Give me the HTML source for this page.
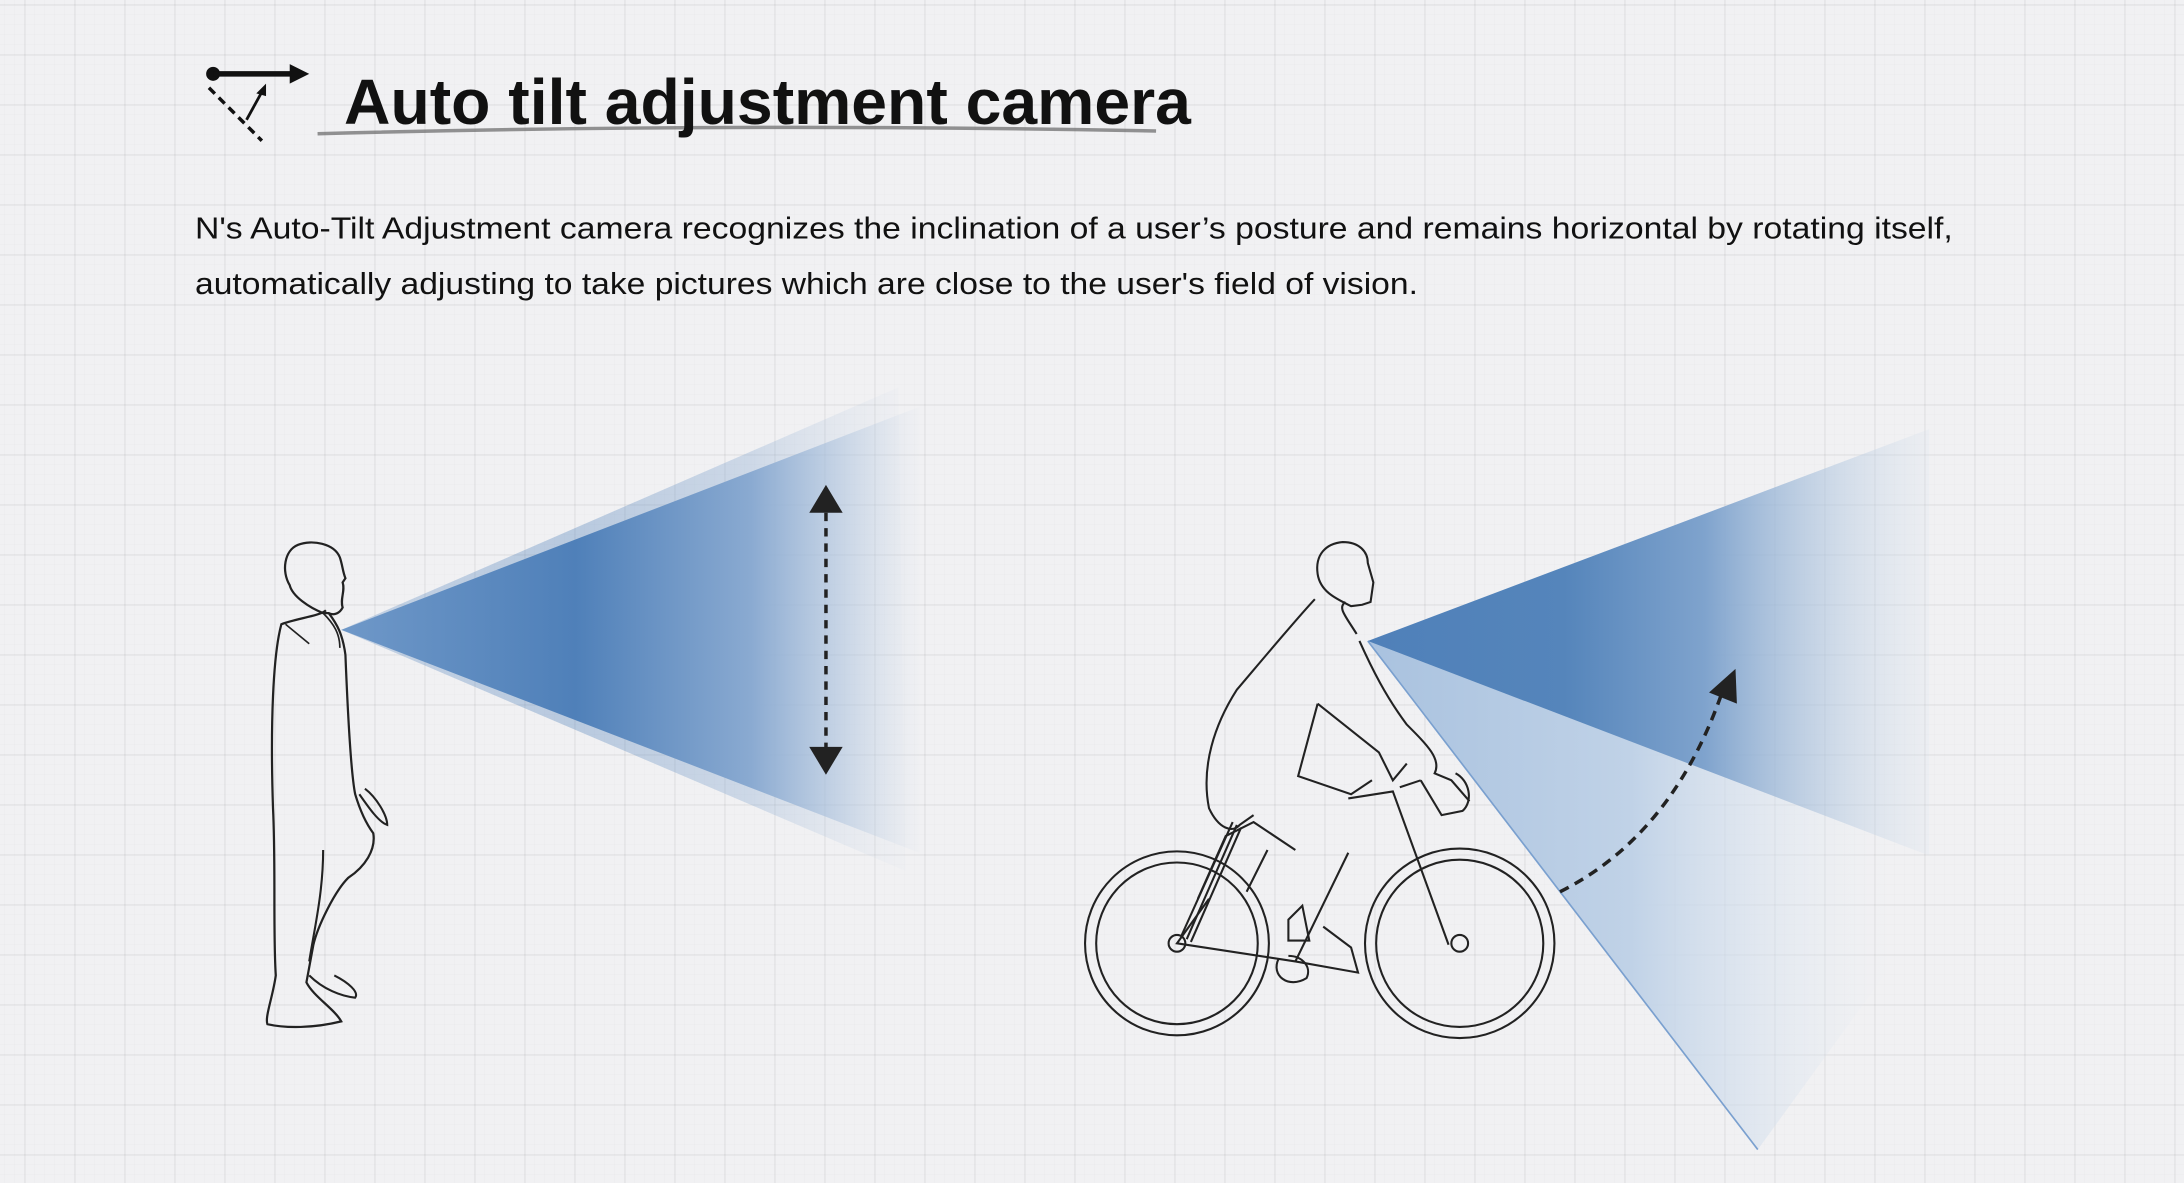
<!DOCTYPE html>
<html><head><meta charset="utf-8"><style>
html,body{margin:0;padding:0}
body{width:2184px;height:1183px;overflow:hidden;background-color:#f1f1f3;
background-image:
linear-gradient(to right, rgba(0,0,0,0.035) 2px, transparent 2px),
linear-gradient(to bottom, rgba(0,0,0,0.035) 2px, transparent 2px),
linear-gradient(to right, rgba(0,0,0,0.013) 1px, transparent 1px),
linear-gradient(to bottom, rgba(0,0,0,0.013) 1px, transparent 1px);
background-size:50px 50px,50px 50px,10px 10px,10px 10px;
background-position:24px 0,0 4px,4px 0,0 4px;}
svg{position:absolute;left:0;top:0}
</style></head><body>
<svg width="2184" height="1183" viewBox="0 0 1568 849" preserveAspectRatio="none" font-family="Liberation Sans, sans-serif">
<defs>
<linearGradient id="g1" x1="245" y1="0" x2="665" y2="0" gradientUnits="userSpaceOnUse">
<stop offset="0" stop-color="#6f98c8"/><stop offset="0.4" stop-color="#4f80b9"/><stop offset="0.7" stop-color="#8aaad1"/><stop offset="1" stop-color="#c5d4e6" stop-opacity="0"/></linearGradient>
<linearGradient id="g2" x1="982" y1="0" x2="1385" y2="0" gradientUnits="userSpaceOnUse">
<stop offset="0" stop-color="#4f80b9"/><stop offset="0.35" stop-color="#5585bb"/><stop offset="0.6" stop-color="#7fa3cd"/><stop offset="1" stop-color="#d5e0ec" stop-opacity="0.2"/></linearGradient>
<linearGradient id="g3" x1="982" y1="0" x2="1360" y2="0" gradientUnits="userSpaceOnUse">
<stop offset="0" stop-color="#a9c2df"/><stop offset="0.5" stop-color="#c0d2e7"/><stop offset="1" stop-color="#e6ecf3" stop-opacity="0"/></linearGradient>
</defs>
<circle cx="153" cy="53" r="5" fill="#111"/>
<line x1="153" y1="53" x2="212" y2="53" stroke="#111" stroke-width="4"/>
<polygon points="222,53 208,46 208,60" fill="#111"/>
<line x1="150" y1="63" x2="188" y2="101" stroke="#111" stroke-width="2.5" stroke-dasharray="6,4"/>
<line x1="177" y1="86" x2="188" y2="66" stroke="#111" stroke-width="2"/>
<polygon points="191,60 184,67 191,69" fill="#111"/>
<path d="M228 96 Q520 88 830 94" stroke="#666" stroke-width="2.5" fill="none" opacity="0.7"/>
<text x="247" y="89" font-size="46" font-weight="bold" fill="#111" textLength="608" lengthAdjust="spacingAndGlyphs">Auto tilt adjustment camera</text>
<text x="140" y="171" font-size="22" fill="#111" textLength="1262" lengthAdjust="spacingAndGlyphs">N's Auto-Tilt Adjustment camera recognizes the inclination of a user’s posture and remains horizontal by rotating itself,</text>
<text x="140" y="211" font-size="22" fill="#111" textLength="878" lengthAdjust="spacingAndGlyphs">automatically adjusting to take pictures which are close to the user's field of vision.</text>
<polygon points="245,452 645,278 650,625" fill="url(#g1)" opacity="0.35"/>
<polygon points="245,452 660,292 660,612" fill="url(#g1)"/>
<line x1="593" y1="368" x2="593" y2="540" stroke="#222" stroke-width="2.5" stroke-dasharray="6,5"/>
<polygon points="593,348 581,368 605,368" fill="#222"/>
<polygon points="593,556 581,536 605,536" fill="#222"/>
<path d="M232 440 C222 436 210 428 208 420 C202 410 204 395 214 391 C224 387 240 390 244 400 C246 406 246 410 248 415 L246 418 C248 424 244 430 246 436 C244 440 240 442 236 440 Z" fill="none" stroke="#222" stroke-width="1.6"/>
<path d="M234 438 C230 442 212 444 202 448 C196 470 194 520 196 580 C198 620 196 670 198 700 C196 715 190 730 192 735 C205 738 225 738 245 733 C240 724 225 715 220 705 L225 678 C228 665 240 640 250 630 C262 622 270 610 268 598 C262 590 258 580 255 570 C252 555 250 520 248 470 C246 455 242 448 236 440" fill="none" stroke="#222" stroke-width="1.6"/>
<path d="M222 700 C232 710 245 715 255 716 C258 712 250 705 240 700 M232 610 C232 640 226 665 222 690 M258 570 C265 580 272 590 278 592 C278 585 270 572 262 566" fill="none" stroke="#222" stroke-width="1.5"/>
<path d="M232 440 C240 448 244 455 244 465 M205 448 L222 462" fill="none" stroke="#222" stroke-width="1.2"/>
<polygon points="982,460 1380,612 1360,690 1262,825" fill="url(#g3)"/>
<line x1="982" y1="460" x2="1262" y2="825" stroke="#7aa0cf" stroke-width="1.2"/>
<polygon points="982,460 1385,308 1385,614" fill="url(#g2)"/>
<path d="M1120 640 Q1200 600 1236 498" stroke="#222" stroke-width="2.5" fill="none" stroke-dasharray="7,5"/>
<polygon points="1246,480 1227,497 1247,505" fill="#222"/>
<g fill="none" stroke="#222" stroke-width="1.5">
<path d="M970 435 C960 430 948 425 946 412 C944 398 952 390 964 389 C976 389 982 396 982 404 L986 418 L984 432 L978 434 Z"/>
<path d="M974 455 C966 442 960 436 966 432 M944 430 C930 445 905 475 888 495 C872 520 862 550 868 580 C875 595 885 598 890 592 L900 585"/>
<path d="M976 460 C985 480 995 500 1010 520 C1025 535 1035 545 1030 555 L1042 560 L1055 575"/>
<path d="M946 505 L990 540 L1000 560 L1010 548 M946 505 L932 557 L970 570 L985 560"/>
<path d="M860 645 L880 600 L900 590 L930 610 M895 640 L910 610"/>
<path d="M968 573 L1000 568 L1040 678 M1005 565 L1020 560 M1020 560 L1035 585 L1050 582 C1058 575 1055 560 1045 555"/>
<path d="M868 645 L845 677 L930 690 L968 612 M930 690 L975 698 L970 680 L950 665"/>
<path d="M925 660 L935 650 L940 675 L925 675 Z M918 688 C912 700 925 710 938 702 C942 694 935 686 925 686"/>
<circle cx="845" cy="677" r="66"/><circle cx="845" cy="677" r="58"/>
<circle cx="1048" cy="677" r="68"/><circle cx="1048" cy="677" r="60"/>
<circle cx="845" cy="677" r="6"/><circle cx="1048" cy="677" r="6"/>
<path d="M848 672 L885 590 M852 674 L888 592 M855 676 L891 594"/>
</g>
</svg>
</body></html>
